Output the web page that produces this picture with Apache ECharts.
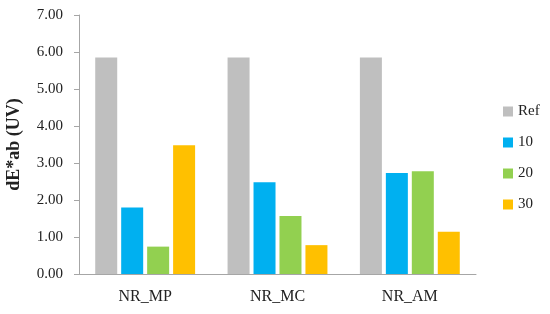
<!DOCTYPE html>
<html><head><meta charset="utf-8">
<script src="https://cdn.jsdelivr.net/npm/echarts@6/dist/echarts.min.js"></script>
<style>html,body{margin:0;padding:0;background:#fff}#c{width:550px;height:314px}</style>
</head><body><div id="c"></div>
<script>
const categories = ['NR_MP', 'NR_MC', 'NR_AM'];
const seriesNames = ['Ref', '10', '20', '30'];
const refValues = [5.85, 5.85, 5.85];
const v10 = [1.80, 2.48, 2.73];
const v20 = [0.74, 1.57, 2.78];
const v30 = [3.48, 0.78, 1.14];
const colors = ['#BFBFBF', '#00B0F0', '#92D050', '#FFC000'];
const yTicks = { min: 0, max: 7, interval: 1 };

const font = 'Liberation Serif, DejaVu Serif, serif';
const chart = echarts.init(document.getElementById('c'));
const data = [refValues, v10, v20, v30];
chart.setOption({
  animation: false,
  textStyle: { fontFamily: font },
  grid: { left: 79, right: 74, top: 15, bottom: 40, outerBoundsMode: 'none', containLabel: false },
  legend: {
    orient: 'vertical', left: 498, top: 99, itemWidth: 10, itemHeight: 10, itemGap: 16,
    icon: 'rect',
    textStyle: { fontFamily: font, fontSize: 15, color: '#222' },
    data: seriesNames
  },
  xAxis: {
    type: 'category', data: categories,
    axisLine: { lineStyle: { color: '#A6A6A6', width: 1 } },
    axisTick: { show: false },
    axisLabel: { fontFamily: font, fontSize: 16, color: '#222', margin: 15 }
  },
  yAxis: {
    type: 'value', min: yTicks.min, max: yTicks.max, interval: yTicks.interval,
    name: 'dE*ab (UV)', nameLocation: 'middle', nameGap: 56, nameRotate: 90,
    nameTextStyle: { fontFamily: font, fontSize: 18, fontWeight: 'bold', color: '#222' },
    axisLine: { show: true, lineStyle: { color: '#A6A6A6' } },
    axisTick: { show: true, length: 5, lineStyle: { color: '#A6A6A6' } },
    splitLine: { show: false },
    axisLabel: { fontFamily: font, fontSize: 15, color: '#222', margin: 16, formatter: v => v.toFixed(2) }
  },
  series: seriesNames.map((n, i) => ({
    name: n, type: 'bar', data: data[i], barWidth: 22, barGap: '18%',
    itemStyle: { color: colors[i] }
  }))
});
</script></body></html>
